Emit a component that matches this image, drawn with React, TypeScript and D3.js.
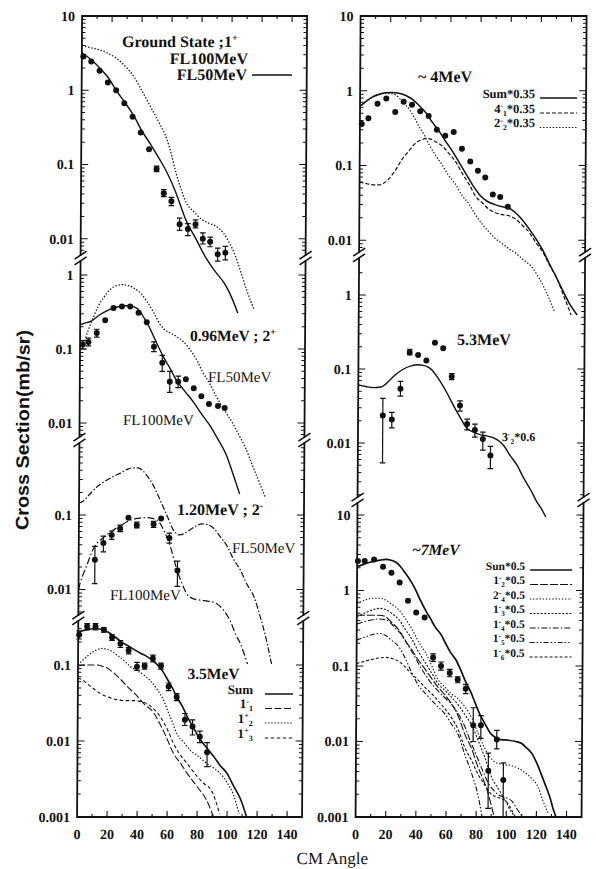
import React, { useEffect, useRef } from 'react';
import * as d3 from 'd3';

type Pt = [number, number];

// ---------- data (angle in deg, cross section in mb/sr) ----------
const xTicks = [0, 20, 40, 60, 80, 100, 120, 140];

// Ground state ;1+
const gsFL50: Pt[] = [[0, 3.2], [1, 3.1], [7, 2.5], [12, 2.0], [18, 1.45], [23, 1.0], [29, 0.68], [35, 0.45], [40, 0.29], [46, 0.19], [52, 0.12], [57, 0.08], [63, 0.043], [67, 0.026], [70, 0.018], [77, 0.0098], [83, 0.0058], [89, 0.0038], [96, 0.0025], [101, 0.0016], [105, 0.001]];
const gsFL100: Pt[] = [[0, 4.0], [1, 3.95], [7, 3.7], [12, 3.5], [18, 3.1], [23, 2.7], [29, 2.1], [35, 1.5], [40, 1.0], [46, 0.6], [52, 0.36], [57, 0.22], [60, 0.14], [63, 0.08], [67, 0.045], [70, 0.031], [75, 0.0235], [81, 0.018], [86, 0.016], [90, 0.0148], [95, 0.012], [99, 0.0089], [103, 0.006], [107, 0.0035], [111, 0.002], [116, 0.0011]];
const gsPoints: number[][] = [[1, 2.85], [6.3, 2.44], [11.9, 1.83], [17.4, 1.27], [23, 1.0], [28.5, 0.67], [34.1, 0.44], [39.6, 0.27], [45.2, 0.16], [50.3, 0.087, 0.08, 0.095], [55.2, 0.041, 0.037, 0.046], [60.3, 0.032, 0.028, 0.036], [65.9, 0.0157, 0.013, 0.019], [71.4, 0.0135, 0.011, 0.016], [76.5, 0.0157, 0.014, 0.018], [81.4, 0.01, 0.0085, 0.012], [86.3, 0.0091, 0.0078, 0.0105], [91.4, 0.0062, 0.005, 0.0075], [96.5, 0.0065, 0.0052, 0.0079]];

// 0.96MeV ; 2+
const s096FL100: Pt[] = [[0, 0.21], [2, 0.22], [7, 0.236], [13, 0.29], [18, 0.33], [22, 0.357], [26, 0.375], [31, 0.385], [36, 0.37], [40, 0.32], [42, 0.275], [46, 0.2], [49, 0.148], [53, 0.1], [56, 0.076], [60, 0.055], [64, 0.039], [70, 0.027], [76, 0.019], [81, 0.0135], [87, 0.0092], [92, 0.0062], [98, 0.0037], [102, 0.0022], [107, 0.0011]];
const s096FL50: Pt[] = [[0, 0.1], [2, 0.11], [5, 0.17], [9, 0.275], [12, 0.38], [16, 0.51], [20, 0.64], [24, 0.72], [28, 0.74], [32, 0.72], [36, 0.66], [40, 0.57], [44, 0.45], [49, 0.31], [53, 0.22], [56, 0.185], [60, 0.165], [64, 0.149], [69, 0.125], [73, 0.1], [78, 0.07], [82, 0.048], [87, 0.033], [91, 0.023], [97, 0.0145], [102, 0.01], [107, 0.0065], [111, 0.0045], [115, 0.0028], [120, 0.0016], [124, 0.001]];
const s096Points: number[][] = [[1.8, 0.115, 0.1, 0.13], [5.6, 0.124, 0.11, 0.14], [11.1, 0.165, 0.145, 0.185], [16.7, 0.244], [22.2, 0.357], [27.8, 0.376], [33.3, 0.376], [38.9, 0.31], [44.4, 0.23], [49.3, 0.107, 0.092, 0.125], [54.9, 0.065, 0.05, 0.082], [60, 0.036, 0.026, 0.05], [65.6, 0.036, 0.03, 0.043], [70.7, 0.039], [76, 0.0295], [81.1, 0.023], [86.2, 0.018], [92.2, 0.017], [96.7, 0.016]];

// 1.20MeV ; 2-
const s120FL50: Pt[] = [[0, 0.145], [2, 0.15], [7, 0.19], [12, 0.24], [18, 0.29], [23, 0.33], [28, 0.37], [32, 0.41], [36, 0.43], [39, 0.43], [42, 0.4], [45, 0.34], [49, 0.26], [52, 0.195], [56, 0.13], [59, 0.095], [63, 0.063], [67, 0.054], [70, 0.056], [74, 0.063], [78, 0.071], [82, 0.076], [86, 0.074], [90, 0.066], [94, 0.052], [99, 0.038], [103, 0.026], [108, 0.018], [112, 0.012], [117, 0.008], [121, 0.0045], [125, 0.0023], [129, 0.001]];
const s120FL100: Pt[] = [[0, 0.01], [1, 0.012], [5, 0.02], [10, 0.036], [17, 0.051], [23, 0.063], [28, 0.072], [32, 0.081], [39, 0.09], [45, 0.092], [49, 0.09], [52, 0.086], [55, 0.072], [57, 0.06], [61, 0.038], [65, 0.02], [69, 0.012], [72, 0.0089], [76, 0.0076], [81, 0.0072], [86, 0.007], [92, 0.0065], [97, 0.0052], [101, 0.0039], [105, 0.0025], [108, 0.0019], [113, 0.001]];
const s120Points: number[][] = [[10.8, 0.025, 0.012, 0.038], [16.4, 0.042, 0.032, 0.052], [21.9, 0.054, 0.047, 0.061], [27.5, 0.066, 0.06, 0.073], [33, 0.092], [38.6, 0.073, 0.067, 0.08], [49.8, 0.075, 0.068, 0.082], [54.8, 0.09], [60.4, 0.049, 0.042, 0.057], [65.9, 0.018, 0.011, 0.024]];

// 3.5MeV
const s35Sum: Pt[] = [[0, 0.27], [5, 0.29], [10, 0.3], [13, 0.3], [20, 0.27], [25, 0.23], [29, 0.2], [34, 0.175], [38, 0.157], [42, 0.142], [46, 0.129], [50, 0.113], [53, 0.1], [57, 0.08], [60, 0.063], [63, 0.05], [66, 0.038], [70, 0.028], [73, 0.021], [78, 0.014], [82, 0.0103], [86, 0.0082], [91, 0.0062], [95, 0.0048], [100, 0.0037], [104, 0.0026], [109, 0.0017], [113, 0.001]];
const s35m1: Pt[] = [[0, 0.097], [5, 0.1], [10, 0.1], [13, 0.1], [17, 0.095], [20, 0.09], [24, 0.078], [29, 0.063], [33, 0.052], [38, 0.042], [44, 0.031], [51, 0.023], [54, 0.018], [58, 0.0126], [64, 0.0069], [69, 0.005], [73, 0.0038], [80, 0.0025], [86, 0.0017], [91, 0.001]];
const s35p2: Pt[] = [[0, 0.1], [4, 0.12], [8, 0.14], [12, 0.157], [16, 0.165], [20, 0.16], [26, 0.135], [31, 0.113], [35, 0.095], [40, 0.083], [44, 0.074], [49, 0.06], [53, 0.047], [57, 0.035], [60, 0.025], [63, 0.018], [66, 0.0126], [71, 0.0095], [75, 0.0076], [81, 0.0062], [86, 0.0051], [91, 0.0044], [95, 0.0038], [100, 0.0028], [104, 0.002], [108, 0.0011]];
const s35p3: Pt[] = [[0, 0.067], [3, 0.064], [6, 0.057], [11, 0.048], [15, 0.042], [20, 0.038], [26, 0.035], [32, 0.034], [38, 0.034], [42, 0.033], [46, 0.031], [51, 0.026], [55, 0.021], [60, 0.014], [64, 0.0093], [68, 0.0068], [73, 0.0051], [80, 0.0034], [84, 0.0028], [89, 0.0023], [92, 0.0017], [95, 0.0011]];
const s35Points: number[][] = [[0.6, 0.25, 0.22, 0.28], [5.9, 0.32, 0.29, 0.35], [11.5, 0.32, 0.29, 0.35], [17.1, 0.29, 0.27, 0.31], [22.6, 0.23, 0.21, 0.25], [28.2, 0.19, 0.17, 0.21], [33.7, 0.155, 0.14, 0.17], [39.3, 0.095, 0.085, 0.108], [44.4, 0.097, 0.088, 0.106], [49.9, 0.122, 0.11, 0.135], [55.3, 0.097, 0.088, 0.106], [60.5, 0.052, 0.046, 0.058], [65.9, 0.038, 0.034, 0.042], [71.5, 0.019, 0.016, 0.023], [76.6, 0.0155, 0.012, 0.019], [81.5, 0.0114, 0.0095, 0.0135], [86.4, 0.0071, 0.0046, 0.0095]];

// ~4MeV
const r4Sum: Pt[] = [[0, 0.62], [4, 0.72], [8, 0.82], [13, 0.9], [17, 0.94], [21, 0.95], [25, 0.93], [30, 0.87], [35, 0.76], [39, 0.64], [44, 0.5], [48, 0.38], [53, 0.28], [57, 0.21], [62, 0.15], [66, 0.11], [71, 0.075], [75, 0.055], [80, 0.04], [85, 0.033], [90, 0.03], [95, 0.028], [99, 0.027], [104, 0.023], [108, 0.019], [113, 0.014], [117, 0.0107], [122, 0.0073], [126, 0.005], [131, 0.0032], [136, 0.002], [140, 0.0014], [145, 0.001]];
const r4m4: Pt[] = [[0, 0.06], [5, 0.057], [10, 0.055], [13, 0.055], [16, 0.058], [19, 0.065], [24, 0.088], [28, 0.12], [33, 0.16], [37, 0.2], [41, 0.22], [44, 0.23], [47, 0.225], [50, 0.21], [55, 0.18], [59, 0.146], [64, 0.11], [68, 0.079], [73, 0.055], [77, 0.039], [82, 0.031], [86, 0.026], [91, 0.023], [95, 0.022], [100, 0.021], [104, 0.019], [108, 0.016], [113, 0.0126], [117, 0.0095], [122, 0.0069], [126, 0.0048], [131, 0.0032], [136, 0.0018], [141, 0.001]];
const r4m2: Pt[] = [[0, 0.62], [5, 0.75], [10, 0.87], [14, 0.92], [17, 0.93], [21, 0.91], [24, 0.87], [28, 0.72], [33, 0.55], [36, 0.44], [39, 0.34], [43, 0.25], [46, 0.19], [50, 0.14], [55, 0.1], [59, 0.074], [64, 0.055], [68, 0.04], [73, 0.03], [77, 0.022], [82, 0.016], [86, 0.013], [90, 0.0107], [95, 0.009], [99, 0.0078], [104, 0.0067], [108, 0.0057], [115, 0.0043], [120, 0.003], [125, 0.0019], [130, 0.0011]];
const r4Points: number[][] = [[1.2, 0.36], [5.6, 0.43], [11.6, 0.67], [17.4, 0.79], [23.4, 0.52], [28.9, 0.71], [34.5, 0.65], [40, 0.53], [45.6, 0.46], [51.1, 0.3], [56.7, 0.25], [62.3, 0.28], [67.8, 0.167], [73.4, 0.113], [78.5, 0.085], [83.4, 0.069], [88.5, 0.041], [93.4, 0.038], [98.5, 0.028]];

// 5.3MeV
const r53Sum: Pt[] = [[0, 0.061], [5, 0.058], [10, 0.056], [15, 0.057], [18, 0.062], [21, 0.071], [25, 0.085], [30, 0.1], [35, 0.11], [39, 0.114], [43, 0.112], [46, 0.107], [49, 0.096], [52, 0.08], [56, 0.06], [59, 0.047], [62, 0.036], [66, 0.0255], [69, 0.02], [72, 0.016], [76, 0.0143], [81, 0.013], [86, 0.0124], [90, 0.0117], [94, 0.0105], [97, 0.0091], [101, 0.0068], [106, 0.0049], [110, 0.0034], [115, 0.0023], [119, 0.0016], [122, 0.0013], [125, 0.001]];
const r53Points: number[][] = [[16.4, 0.0236, 0.0054, 0.04], [22.4, 0.0207, 0.016, 0.026], [28, 0.054, 0.043, 0.068], [34, 0.169, 0.155, 0.185], [39.6, 0.155], [45.1, 0.13], [50.7, 0.227], [56.2, 0.19], [62, 0.079, 0.072, 0.087], [67.6, 0.032, 0.027, 0.037], [72.4, 0.018, 0.015, 0.021], [77.6, 0.015, 0.012, 0.018], [82.9, 0.0113, 0.008, 0.014], [88, 0.0068, 0.0045, 0.009]];

// ~7MeV
const r7Sum: Pt[] = [[0, 2.06], [5, 2.25], [10, 2.4], [15, 2.52], [19, 2.58], [23, 2.5], [26, 2.35], [29, 2.05], [32, 1.7], [36, 1.3], [39, 1.01], [42, 0.75], [46, 0.53], [49, 0.42], [52, 0.33], [56, 0.26], [59, 0.2], [62, 0.155], [66, 0.12], [69, 0.09], [72, 0.065], [76, 0.045], [79, 0.032], [82, 0.023], [86, 0.0165], [89, 0.013], [92, 0.0115], [96, 0.0106], [101, 0.0104], [106, 0.01], [110, 0.0094], [113, 0.0083], [117, 0.0068], [120, 0.0052], [123, 0.0037], [126, 0.0026], [129, 0.0018], [131, 0.0013], [133, 0.001]];
const r7m12: Pt[] = [[0, 0.47], [5, 0.47], [10, 0.47], [15, 0.47], [19, 0.45], [23, 0.38], [28, 0.3], [32, 0.22], [37, 0.16], [41, 0.12], [46, 0.088], [50, 0.068], [54, 0.053], [59, 0.041], [63, 0.032], [68, 0.021], [72, 0.0127], [77, 0.0078], [81, 0.0046], [85, 0.003], [88, 0.002], [92, 0.001]];
const r7m24: Pt[] = [[0, 0.67], [5, 0.74], [10, 0.79], [15, 0.79], [19, 0.75], [23, 0.66], [28, 0.55], [32, 0.43], [37, 0.3], [41, 0.21], [46, 0.147], [50, 0.1], [54, 0.067], [59, 0.052], [63, 0.043], [68, 0.036], [72, 0.029], [77, 0.02], [81, 0.0127], [85, 0.0085], [89, 0.0062], [92, 0.0054], [97, 0.005], [103, 0.0048], [108, 0.0044], [112, 0.0039], [117, 0.0032], [121, 0.0025], [124, 0.0017], [128, 0.0011]];
const r7m13: Pt[] = [[0, 0.45], [5, 0.5], [10, 0.55], [15, 0.58], [19, 0.56], [23, 0.5], [28, 0.41], [32, 0.31], [37, 0.22], [41, 0.155], [46, 0.108], [50, 0.08], [54, 0.059], [59, 0.047], [63, 0.039], [68, 0.03], [72, 0.023], [77, 0.016], [81, 0.0104], [86, 0.0058], [90, 0.0034], [95, 0.0023], [99, 0.0017], [103, 0.0012], [106, 0.001]];
const r7m14: Pt[] = [[0, 0.36], [4, 0.38], [8, 0.4], [15, 0.42], [19, 0.41], [22, 0.38], [26, 0.31], [30, 0.26], [34, 0.19], [38, 0.14], [42, 0.1], [46, 0.075], [50, 0.058], [55, 0.045], [60, 0.036], [64, 0.03], [68, 0.023], [72, 0.016], [76, 0.01], [80, 0.0065], [84, 0.0042], [88, 0.0028], [92, 0.0022], [96, 0.0019], [100, 0.0018], [104, 0.0016], [108, 0.0012], [112, 0.001]];
const r7m15: Pt[] = [[0, 0.22], [5, 0.24], [10, 0.26], [15, 0.27], [19, 0.255], [23, 0.22], [28, 0.18], [32, 0.13], [37, 0.079], [41, 0.056], [46, 0.043], [50, 0.035], [54, 0.029], [59, 0.023], [63, 0.0173], [68, 0.012], [72, 0.0069], [77, 0.0037], [81, 0.002], [84, 0.001]];
const r7m16: Pt[] = [[0, 0.108], [5, 0.115], [10, 0.122], [15, 0.128], [19, 0.13], [24, 0.125], [30, 0.108], [35, 0.085], [41, 0.065], [46, 0.051], [52, 0.039], [57, 0.03], [63, 0.021], [68, 0.014], [72, 0.0085], [77, 0.0055], [81, 0.0037], [86, 0.0026], [90, 0.002], [95, 0.0018], [100, 0.0016], [103, 0.0013], [106, 0.001]];
const r7Points: number[][] = [[0.5, 2.45], [5, 2.45], [11.2, 2.58], [17.2, 2.06], [22.8, 1.72], [28.3, 1.28], [33.9, 0.73], [39.4, 0.51], [45, 0.44], [50.8, 0.13, 0.115, 0.145], [56.1, 0.1, 0.088, 0.113], [61.9, 0.081, 0.072, 0.09], [67.2, 0.066, 0.06, 0.072], [72.6, 0.05, 0.043, 0.057], [77.7, 0.0164, 0.01, 0.028], [82.8, 0.0164, 0.011, 0.022], [87.9, 0.0041, 0.0013, 0.007], [93.4, 0.0106, 0.008, 0.014], [97.9, 0.0031, 0.001, 0.0052]];

// ---------- layout ----------
const W = 596, H = 869;
const TOP = 16, BOTTOM = 817;
const cols = [{ x0: 79.5, x1: 304.5 }, { x0: 358, x1: 584 }];
const SERIF = '"Liberation Serif", "Times New Roman", serif';
const DOT = '1.4,1.8';

const segments = [
  { col: 0, band: [16, 258], dom: [10, 0.001], rng: [16, 313], points: gsPoints,
    curves: [{ d: gsFL50, dash: null, w: 1.4 }, { d: gsFL100, dash: DOT, w: 1.3 }] },
  { col: 0, band: [258, 440], dom: [1, 0.001], rng: [275, 497], points: s096Points,
    curves: [{ d: s096FL100, dash: null, w: 1.4 }, { d: s096FL50, dash: DOT, w: 1.3 }] },
  { col: 0, band: [440, 618], dom: [0.1, 0.001], rng: [515, 664], points: s120Points,
    curves: [{ d: s120FL50, dash: '6,2,1.5,2', w: 1.2 }, { d: s120FL100, dash: '7,2.5,1.5,2.5', w: 1.2 }] },
  { col: 0, band: [618, 817], dom: [0.1, 0.001], rng: [665, 817], points: s35Points,
    curves: [{ d: s35Sum, dash: null, w: 1.6 }, { d: s35m1, dash: '7,2.5', w: 1.1 }, { d: s35p2, dash: DOT, w: 1.2 }, { d: s35p3, dash: '3.5,2.5', w: 1.1 }] },
  { col: 1, band: [16, 255], dom: [10, 0.001], rng: [16, 315], points: r4Points,
    curves: [{ d: r4Sum, dash: null, w: 1.5 }, { d: r4m4, dash: '4,2', w: 1.2 }, { d: r4m2, dash: DOT, w: 1.2 }] },
  { col: 1, band: [255, 500], dom: [1, 0.001], rng: [295, 517], points: r53Points,
    curves: [{ d: r53Sum, dash: null, w: 1.4 }] },
  { col: 1, band: [500, 817], dom: [10, 0.001], rng: [515, 817], points: r7Points,
    curves: [{ d: r7Sum, dash: null, w: 1.7 }, { d: r7m12, dash: '8,2', w: 1.1 }, { d: r7m24, dash: DOT, w: 1.1 },
      { d: r7m13, dash: '2,1.6', w: 1.1 }, { d: r7m14, dash: '6,2,1.5,2', w: 1.1 }, { d: r7m15, dash: '5,2,1.5,2,1.5,2', w: 1.1 }, { d: r7m16, dash: '3,2', w: 1.1 }] },
];

const breaks = [{ col: 0, ys: [258, 440, 618] }, { col: 1, ys: [255, 500] }];

// text: markup ^{sup} _{sub}
const labels = [
  { x: 119.6, y: 47, size: 16, text: 'Ground State ;1^{+}' },
  { x: 245.7, y: 64, size: 16, anchor: 'end', text: 'FL100MeV' },
  { x: 244.8, y: 80, size: 16, anchor: 'end', text: 'FL50MeV' },
  { x: 189.4, y: 341, size: 15.5, text: '0.96MeV ; 2^{+}' },
  { x: 207.7, y: 382, size: 15, weight: 'normal', text: 'FL50MeV' },
  { x: 123, y: 425, size: 15, weight: 'normal', text: 'FL100MeV' },
  { x: 177.5, y: 515, size: 16, text: '1.20MeV ; 2^{-}' },
  { x: 232.8, y: 553, size: 15, weight: 'normal', text: 'FL50MeV' },
  { x: 111, y: 600, size: 15, weight: 'normal', text: 'FL100MeV' },
  { x: 189, y: 679, size: 15.5, text: '3.5MeV' },
  { x: 415.8, y: 82, size: 16, text: '~ 4MeV' },
  { x: 456.5, y: 345, size: 16, text: '5.3MeV' },
  { x: 502, y: 441, size: 12, text: '3^{-}_{2}*0.6' },
  { x: 412.8, y: 555, size: 15.5, italic: true, text: '~7MeV' },
];

const legends = [
  { textX: 254.7, x1: 266.7, x2: 294.7, size: 13, rows: [
    { y: 694, text: 'Sum', dash: null, w: 1.6 }, { y: 708.5, text: '1^{-}_{1}', dash: '7,2.5', w: 1.1 },
    { y: 723, text: '1^{+}_{2}', dash: DOT, w: 1.2 }, { y: 738, text: '1^{+}_{3}', dash: '3.5,2.5', w: 1.1 }] },
  { textX: 533, x1: 538, x2: 575, size: 12.5, rows: [
    { y: 98, text: 'Sum*0.35', dash: null, w: 1.5 }, { y: 113, text: '4^{-}_{1}*0.35', dash: '4,2', w: 1.2 },
    { y: 127.5, text: '2^{-}_{2}*0.35', dash: DOT, w: 1.2 }] },
  { textX: 526, x1: 531, x2: 573, size: 11.5, rows: [
    { y: 570, text: 'Sun*0.5', dash: null, w: 1.7 }, { y: 584.5, text: '1^{-}_{2}*0.5', dash: '8,2', w: 1.1 },
    { y: 599, text: '2^{-}_{4}*0.5', dash: DOT, w: 1.1 }, { y: 613.5, text: '1^{-}_{3}*0.5', dash: '2,1.6', w: 1.1 },
    { y: 628, text: '1^{-}_{4}*0.5', dash: '6,2,1.5,2', w: 1.1 }, { y: 642.5, text: '1^{-}_{5}*0.5', dash: '5,2,1.5,2,1.5,2', w: 1.1 },
    { y: 657, text: '1^{-}_{6}*0.5', dash: '3,2', w: 1.1 }] },
];

function rich(sel: any, s: string, size: number) {
  const re = /\^\{([^}]*)\}|_\{([^}]*)\}|([^^_]+)/g;
  let m: RegExpExecArray | null;
  let cur = 0;
  while ((m = re.exec(s))) {
    let target = 0, fs = size, txt = m[3];
    if (m[1] !== undefined) { target = -0.38 * size; fs = size * 0.62; txt = m[1]; }
    else if (m[2] !== undefined) { target = 0.22 * size; fs = size * 0.62; txt = m[2]; }
    sel.append('tspan').attr('dy', target - cur).attr('font-size', fs).text(txt);
    cur = target;
  }
}

export default function App() {
  const ref = useRef<SVGSVGElement>(null);

  useEffect(() => {
    document.body.style.margin = '0';
    const svg = d3.select(ref.current);
    svg.selectAll('*').remove();
    svg.append('rect').attr('width', W).attr('height', H).attr('fill', '#fff');

    // the scan is slightly sheared
    const g = svg.append('g').attr('transform', 'translate(2.7,0) skewX(-0.36)');
    const ink = '#111';

    const xs = cols.map(c => d3.scaleLinear().domain([0, 150]).range([c.x0, c.x1]));

    cols.forEach((c, i) => {
      g.append('clipPath').attr('id', `clip${i}`).append('rect')
        .attr('x', c.x0).attr('y', TOP).attr('width', c.x1 - c.x0).attr('height', BOTTOM - TOP);
    });

    segments.forEach(seg => {
      const c = cols[seg.col];
      const x = xs[seg.col];
      const y = d3.scaleLog().domain(seg.dom).range(seg.rng);
      const line = d3.line<Pt>().x(d => x(d[0])).y(d => y(d[1])).curve(d3.curveMonotoneX);

      const cg = g.append('g').attr('clip-path', `url(#clip${seg.col})`);
      seg.curves.forEach(cv => {
        cg.append('path').attr('d', line(cv.d)).attr('fill', 'none').attr('stroke', ink)
          .attr('stroke-width', cv.w).attr('stroke-dasharray', cv.dash);
      });

      seg.points.forEach(p => {
        if (p.length > 2) {
          const lo = y(p[2]), hi = y(p[3]), px = x(p[0]);
          g.append('line').attr('x1', px).attr('x2', px).attr('y1', lo).attr('y2', hi).attr('stroke', ink).attr('stroke-width', 1.2);
          [lo, hi].forEach(v => g.append('line').attr('x1', px - 2.8).attr('x2', px + 2.8).attr('y1', v).attr('y2', v).attr('stroke', ink).attr('stroke-width', 1.2));
        }
        g.append('circle').attr('cx', x(p[0])).attr('cy', y(p[1])).attr('r', 3).attr('fill', ink);
      });

      // log ticks within band
      for (let e = -3; e <= 1; e++) {
        for (let k = 1; k <= 9; k++) {
          const v = k * Math.pow(10, e);
          const py = y(v);
          const okTop = seg.band[0] === TOP ? py >= TOP - 0.5 : py > seg.band[0] + 5;
          const okBot = seg.band[1] === BOTTOM ? py <= BOTTOM + 0.5 : py < seg.band[1] - 5;
          if (!okTop || !okBot) continue;
          const len = k === 1 ? 7 : 3.5;
          g.append('line').attr('x1', c.x0).attr('x2', c.x0 + len).attr('y1', py).attr('y2', py).attr('stroke', ink).attr('stroke-width', 1);
          g.append('line').attr('x1', c.x1).attr('x2', c.x1 - len).attr('y1', py).attr('y2', py).attr('stroke', ink).attr('stroke-width', 1);
          if (k === 1) {
            g.append('text').attr('x', c.x0 - 7).attr('y', py).attr('dy', '0.35em')
              .attr('text-anchor', 'end').attr('font-family', SERIF).attr('font-weight', 'bold')
              .attr('font-size', 14).attr('fill', ink).text(e >= 0 ? String(v) : v.toFixed(-e));
          }
        }
      }
    });

    // frames and x ticks
    cols.forEach((c, i) => {
      const x = xs[i];
      g.append('rect').attr('x', c.x0).attr('y', TOP).attr('width', c.x1 - c.x0).attr('height', BOTTOM - TOP)
        .attr('fill', 'none').attr('stroke', ink).attr('stroke-width', 1.8);
      for (let a = 10; a < 150; a += 10) {
        const len = a % 20 === 0 ? 6 : 3;
        g.append('line').attr('x1', x(a)).attr('x2', x(a)).attr('y1', TOP).attr('y2', TOP + len).attr('stroke', ink).attr('stroke-width', 1.1);
        g.append('line').attr('x1', x(a)).attr('x2', x(a)).attr('y1', BOTTOM).attr('y2', BOTTOM - len).attr('stroke', ink).attr('stroke-width', 1.1);
      }
      xTicks.forEach(t => {
        g.append('text').attr('x', x(t)).attr('y', 839).attr('text-anchor', 'middle')
          .attr('font-family', SERIF).attr('font-weight', 'bold').attr('font-size', 14).attr('fill', ink).text(t);
      });
    });

    // axis breaks "//"
    breaks.forEach(b => {
      const c = cols[b.col];
      b.ys.forEach(by => {
        [c.x0, c.x1].forEach(bx => {
          g.append('rect').attr('x', bx - 3).attr('y', by - 2.2).attr('width', 6).attr('height', 4.4).attr('fill', '#fff');
          [-2.8, 2.8].forEach(o => {
            g.append('line').attr('x1', bx - 6).attr('y1', by + o + 4).attr('x2', bx + 6).attr('y2', by + o - 4)
              .attr('stroke', ink).attr('stroke-width', 1.6);
          });
        });
      });
    });

    // annotations
    labels.forEach(l => {
      const t = g.append('text').attr('x', l.x).attr('y', l.y).attr('text-anchor', l.anchor || 'start')
        .attr('font-family', SERIF).attr('font-weight', l.weight || 'bold')
        .attr('font-style', l.italic ? 'italic' : 'normal').attr('font-size', l.size).attr('fill', ink);
      rich(t, l.text, l.size);
    });
    // FL50MeV sample line
    g.append('line').attr('x1', 249.8).attr('x2', 289.8).attr('y1', 75).attr('y2', 75).attr('stroke', ink).attr('stroke-width', 1.4);

    legends.forEach(lg => {
      lg.rows.forEach(r => {
        const t = g.append('text').attr('x', lg.textX).attr('y', r.y).attr('dy', '0.33em').attr('text-anchor', 'end')
          .attr('font-family', SERIF).attr('font-weight', 'bold').attr('font-size', lg.size).attr('fill', ink);
        rich(t, r.text, lg.size);
        g.append('line').attr('x1', lg.x1).attr('x2', lg.x2).attr('y1', r.y).attr('y2', r.y)
          .attr('stroke', ink).attr('stroke-width', r.w).attr('stroke-dasharray', r.dash);
      });
    });

    // axis titles
    g.append('text').attr('transform', 'translate(29,430) rotate(-90)').attr('text-anchor', 'middle')
      .attr('font-family', '"Liberation Sans", Arial, sans-serif').attr('font-weight', 'bold').attr('font-size', 18)
      .attr('textLength', 200).attr('lengthAdjust', 'spacingAndGlyphs').attr('fill', ink).text('Cross Section(mb/sr)');
    g.append('text').attr('x', 335).attr('y', 864).attr('text-anchor', 'middle')
      .attr('font-family', SERIF).attr('font-size', 17).attr('fill', ink).text('CM Angle');
  }, []);

  return <svg ref={ref} width={W} height={H} style={{ display: 'block' }}></svg>;
}
